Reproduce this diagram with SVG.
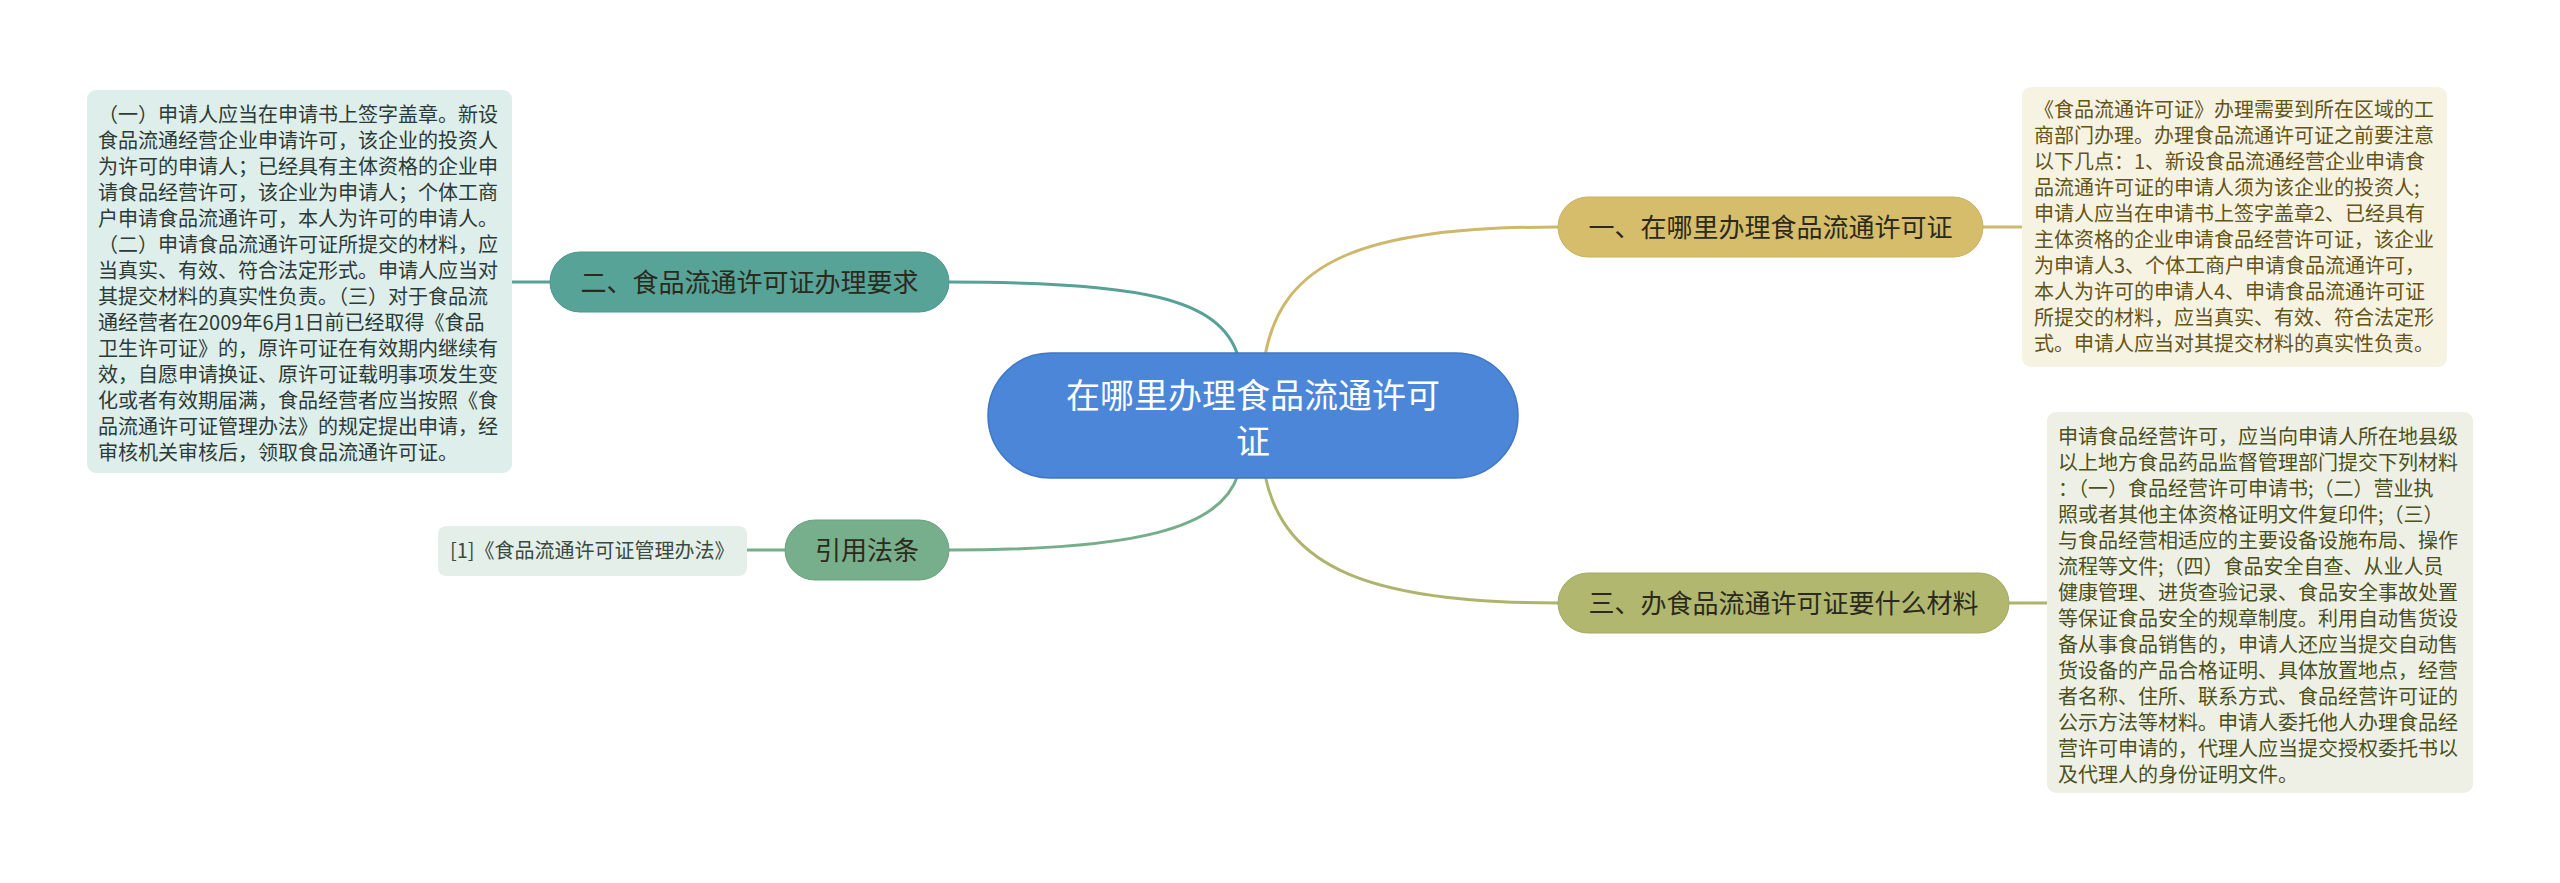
<svg xmlns="http://www.w3.org/2000/svg" width="2560" height="883" viewBox="0 0 2560 883">
<style>
text{font-family:"Noto Sans CJK SC","Noto Sans",sans-serif}
.leaf{font-size:20px}
.pill{font-size:26px;text-anchor:middle;fill:#2b2a1c}
.conn{fill:none;stroke-width:3}
</style>
<rect width="2560" height="883" fill="#ffffff"/>
<g id="connectors">
<path class="conn" stroke="#cdb86c" d="M1265,356 C1282,262 1360,227 1558,227"/>
<path class="conn" stroke="#58a196" d="M1238,356 C1220,298 1140,282 949,282"/>
<path class="conn" stroke="#aeb46c" d="M1265,475 C1284,568 1370,603 1558,603"/>
<path class="conn" stroke="#76ad8a" d="M1238,475 C1220,528 1140,550 949,550"/>
<path class="conn" stroke="#cdb86c" d="M1983,227 L2022,227"/>
<path class="conn" stroke="#aeb46c" d="M2009,603 L2047,603"/>
<path class="conn" stroke="#58a196" d="M512,282 L550,282"/>
<path class="conn" stroke="#76ad8a" d="M747,550 L785,550"/>
</g>
<g id="center">
<rect x="988" y="353" width="530" height="125" rx="62.5" fill="#4b86d9" stroke="#3f77c4" stroke-width="1.5"/>
<text x="1253" y="408" font-size="34" fill="#ffffff" text-anchor="middle">在哪里办理食品流通许可</text>
<text x="1253" y="454" font-size="34" fill="#ffffff" text-anchor="middle">证</text>
</g>
<g id="branch1">
<rect x="1558" y="197" width="425" height="60" rx="30" fill="#d5bd6b" stroke="#c8b060" stroke-width="1"/>
<text class="pill" x="1770.5" y="237">一、在哪里办理食品流通许可证</text>
</g>
<g id="leaf1">
<rect x="2022" y="87" width="425" height="280" rx="9" fill="#f6f3e3"/>
<g class="leaf" fill="#645418">
<text x="2034" y="117">《食品流通许可证》办理需要到所在区域的工</text>
<text x="2034" y="143">商部门办理。办理食品流通许可证之前要注意</text>
<text x="2034" y="169">以下几点：1、新设食品流通经营企业申请食</text>
<text x="2034" y="195">品流通许可证的申请人须为该企业的投资人;</text>
<text x="2034" y="221">申请人应当在申请书上签字盖章2、已经具有</text>
<text x="2034" y="247">主体资格的企业申请食品经营许可证，该企业</text>
<text x="2034" y="273">为申请人3、个体工商户申请食品流通许可，</text>
<text x="2034" y="299">本人为许可的申请人4、申请食品流通许可证</text>
<text x="2034" y="325">所提交的材料，应当真实、有效、符合法定形</text>
<text x="2034" y="351">式。申请人应当对其提交材料的真实性负责。</text>
</g>
</g>
<g id="branch3">
<rect x="1558" y="573" width="451" height="60" rx="30" fill="#b1b76f" stroke="#a4aa62" stroke-width="1"/>
<text class="pill" x="1783.5" y="613">三、办食品流通许可证要什么材料</text>
</g>
<g id="leaf3">
<rect x="2047" y="412" width="426" height="381" rx="9" fill="#eff0e5"/>
<g class="leaf" fill="#4b5020">
<text x="2058" y="444">申请食品经营许可，应当向申请人所在地县级</text>
<text x="2058" y="470">以上地方食品药品监督管理部门提交下列材料</text>
<text x="2058" y="496">：（一）食品经营许可申请书;（二）营业执</text>
<text x="2058" y="522">照或者其他主体资格证明文件复印件;（三）</text>
<text x="2058" y="548">与食品经营相适应的主要设备设施布局、操作</text>
<text x="2058" y="574">流程等文件;（四）食品安全自查、从业人员</text>
<text x="2058" y="600">健康管理、进货查验记录、食品安全事故处置</text>
<text x="2058" y="626">等保证食品安全的规章制度。利用自动售货设</text>
<text x="2058" y="652">备从事食品销售的，申请人还应当提交自动售</text>
<text x="2058" y="678">货设备的产品合格证明、具体放置地点，经营</text>
<text x="2058" y="704">者名称、住所、联系方式、食品经营许可证的</text>
<text x="2058" y="730">公示方法等材料。申请人委托他人办理食品经</text>
<text x="2058" y="756">营许可申请的，代理人应当提交授权委托书以</text>
<text x="2058" y="782">及代理人的身份证明文件。</text>
</g>
</g>
<g id="branch2">
<rect x="550" y="252" width="399" height="60" rx="30" fill="#57a398" stroke="#4b968b" stroke-width="1"/>
<text class="pill" x="749.5" y="292">二、食品流通许可证办理要求</text>
</g>
<g id="leaf2">
<rect x="87" y="90" width="425" height="383" rx="9" fill="#deeeeb"/>
<g class="leaf" fill="#2c3b38">
<text x="98" y="122">（一）申请人应当在申请书上签字盖章。新设</text>
<text x="98" y="148">食品流通经营企业申请许可，该企业的投资人</text>
<text x="98" y="174">为许可的申请人；已经具有主体资格的企业申</text>
<text x="98" y="200">请食品经营许可，该企业为申请人；个体工商</text>
<text x="98" y="226">户申请食品流通许可，本人为许可的申请人。</text>
<text x="98" y="252">（二）申请食品流通许可证所提交的材料，应</text>
<text x="98" y="278">当真实、有效、符合法定形式。申请人应当对</text>
<text x="98" y="304">其提交材料的真实性负责。（三）对于食品流</text>
<text x="98" y="330">通经营者在2009年6月1日前已经取得《食品</text>
<text x="98" y="356">卫生许可证》的，原许可证在有效期内继续有</text>
<text x="98" y="382">效，自愿申请换证、原许可证载明事项发生变</text>
<text x="98" y="408">化或者有效期届满，食品经营者应当按照《食</text>
<text x="98" y="434">品流通许可证管理办法》的规定提出申请，经</text>
<text x="98" y="460">审核机关审核后，领取食品流通许可证。</text>
</g>
</g>
<g id="branch4">
<rect x="785" y="520" width="164" height="60" rx="30" fill="#77ae8b" stroke="#6aa07e" stroke-width="1"/>
<text class="pill" x="867" y="560" fill="#1f3226">引用法条</text>
</g>
<g id="leaf4">
<rect x="438" y="526" width="309" height="50" rx="8" fill="#e5efe9"/>
<text class="leaf" x="450" y="558" fill="#3a4a40">[1]《食品流通许可证管理办法》</text>
</g>
</svg>
